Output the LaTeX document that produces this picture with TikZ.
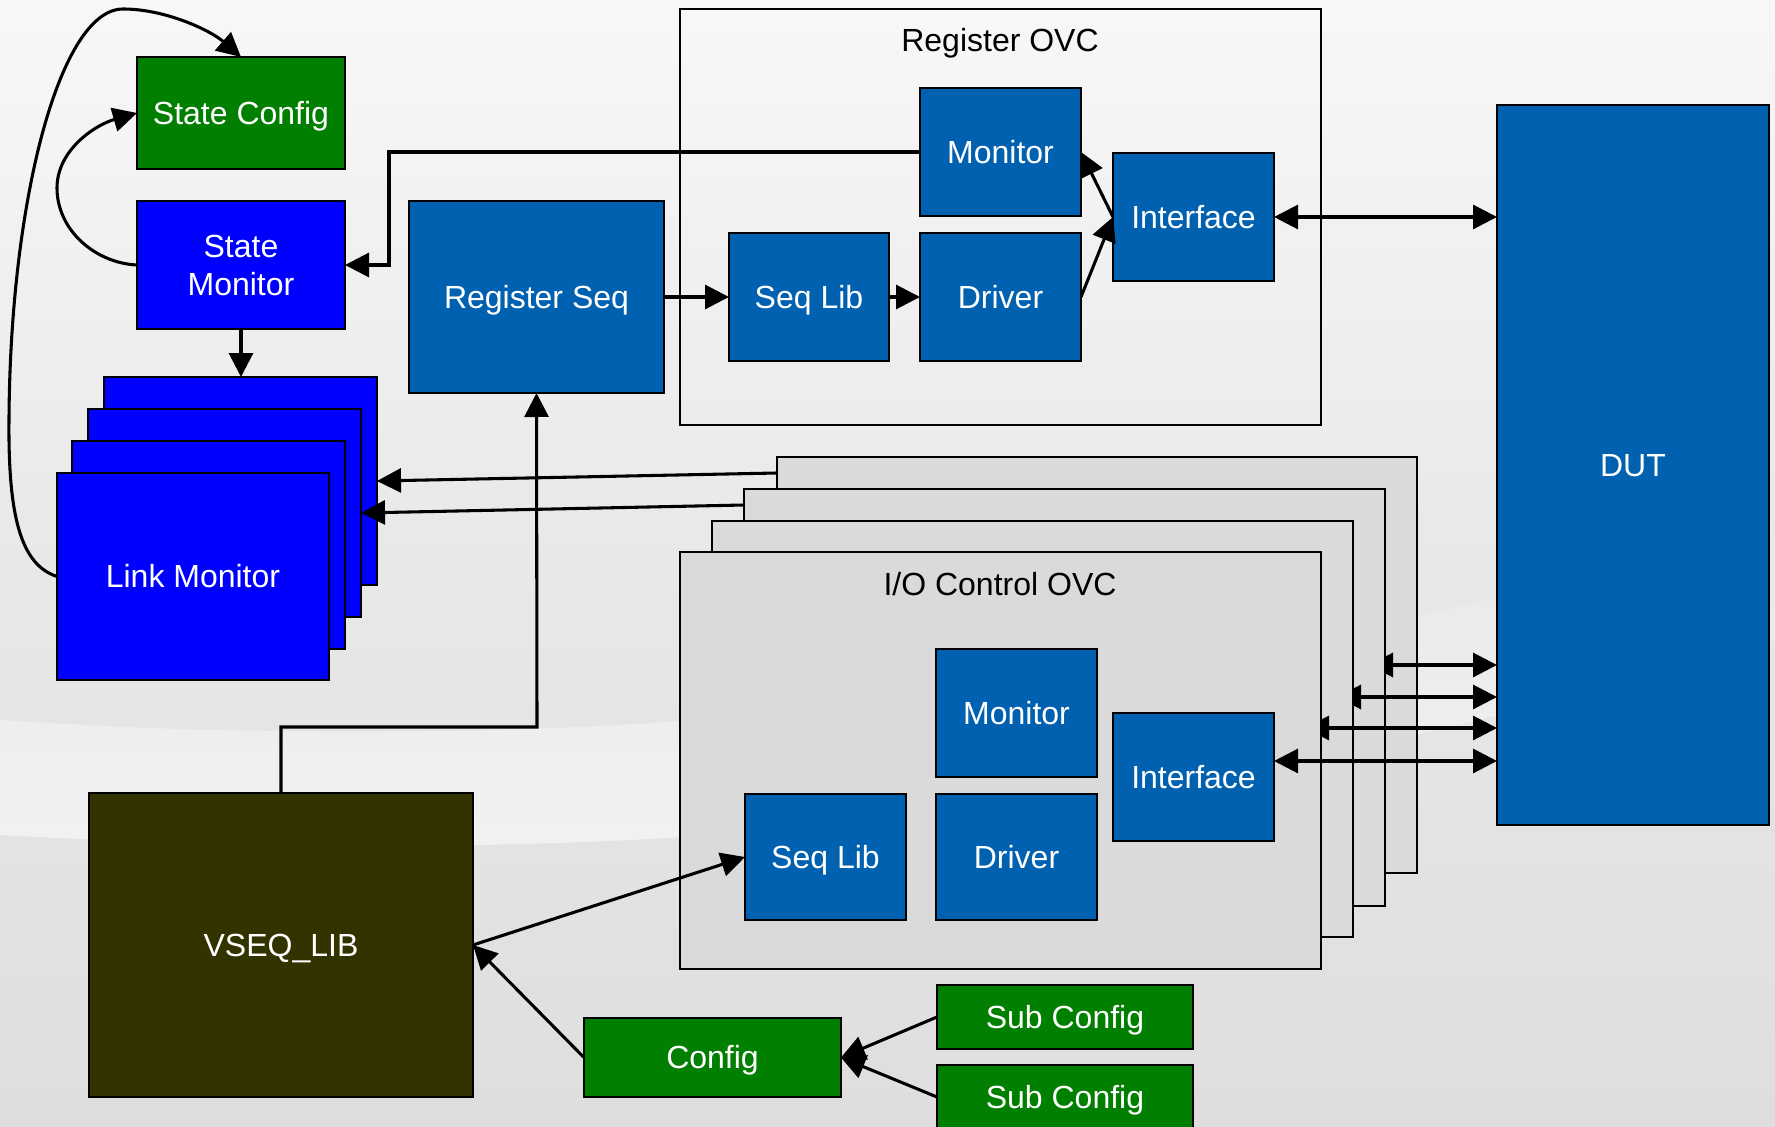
\documentclass[tikz,border=0pt]{standalone}
\usepackage{fontspec}
\setmainfont{Liberation Sans}
\usetikzlibrary{arrows.meta,calc}
\definecolor{regblue}{HTML}{0061B0}
\definecolor{brblue}{HTML}{0000FF}
\definecolor{cfggreen}{HTML}{007F00}
\definecolor{vseqcol}{HTML}{333300}
\definecolor{iofill}{HTML}{DADADA}
\newcommand\bx[7]{\node[#6, minimum width={(#4-#2)*0.75pt}, minimum height={(#5-#3)*0.75pt}] (#1) at ({(#2+#4)/2},{(#3+#5)/2}) {#7};}
\tikzset{
  blk/.style={draw=black, line width=1.6pt, inner sep=0pt, outer sep=0pt, text=white, align=center,
    font=\fontsize{24}{28.75}\selectfont, text height=17.2pt, text depth=0pt},
  rb/.style={blk, fill=regblue},
  bb/.style={blk, fill=brblue},
  gb/.style={blk, fill=cfggreen},
  vb/.style={blk, fill=vseqcol},
  two/.style={text height=46pt},
  ovc/.style={draw=black, line width=1.4pt, inner sep=0pt, outer sep=0pt},
  iob/.style={ovc, fill=iofill},
  ttl/.style={text=black, inner sep=0pt, font=\fontsize{24}{28.75}\selectfont, text height=17.2pt, text depth=0pt},
  con/.style={draw=black, line width=2.3pt},
}
\begin{document}
\begin{tikzpicture}[x=0.75pt, y=-0.75pt, >={Triangle[length=18pt,width=18pt]}]
\useasboundingbox (0,0) rectangle (1775,1127);
% background
\shade[top color=white!97!black, bottom color=white!87!black, middle color=white!91!black] (0,0) rectangle (1775,1127);
\shade[top color=white!91!black, bottom color=white!95!black]
  (0,720) .. controls (600,760) and (1200,700) .. (1775,520)
  -- (1775,640) .. controls (1300,780) and (800,880) .. (0,835) -- cycle;

% curves on the left
\bx{sc}{137}{57}{345}{169}{gb}{State Config}
\bx{sm}{137}{201}{345}{329}{bb,two}{State\\Monitor}
\bx{lm4}{104}{377}{377}{585}{bb}{}
\bx{lm3}{88}{409}{361}{617}{bb}{}
\bx{lm2}{72}{441}{345}{649}{bb}{}
\bx{lm}{57}{473}{329}{680}{bb}{Link Monitor}

\draw[con,->] (lm.west) .. controls (22,565) and (8,520) .. (9,420)
  .. controls (10,200) and (60,9) .. (123,9)
  .. controls (165,9) and (210,30) .. (sc.north);
\draw[con,->] (sm.west) .. controls (95,263) and (57,230) .. (57,188)
  .. controls (57,150) and (95,125) .. (sc.west);

% Register OVC
\node[ovc, minimum width={(1321-680)*0.75pt}, minimum height={(425-9)*0.75pt}] (regovc) at ({(680+1321)/2},{(9+425)/2}) {};
\node[ttl] (regttl) at (1000,40) {Register OVC};
\bx{regseq}{409}{201}{664}{393}{rb}{Register Seq}
\bx{regmon}{920}{88}{1081}{216}{rb}{Monitor}
\bx{regseqlib}{729}{233}{889}{361}{rb}{Seq Lib}
\bx{regdrv}{920}{233}{1081}{361}{rb}{Driver}
\bx{regif}{1113}{153}{1274}{281}{rb}{Interface}
\bx{dut}{1497}{105}{1769}{825}{rb}{DUT}

% I/O stack with arrows to DUT
\node[iob, minimum width={(1417-777)*0.75pt}, minimum height={(873-457)*0.75pt}] (io4) at ({(777+1417)/2},{(457+873)/2}) {};
\coordinate (a1) at (1369,665);
\draw[con,<->] (a1) -- (a1 -| dut.west);
\node[iob, minimum width={(1385-744)*0.75pt}, minimum height={(906-489)*0.75pt}] (io3) at ({(744+1385)/2},{(489+906)/2}) {};
\coordinate (a2) at (1337,697);
\draw[con,<->] (a2) -- (a2 -| dut.west);
\node[iob, minimum width={(1353-712)*0.75pt}, minimum height={(937-521)*0.75pt}] (io2) at ({(712+1353)/2},{(521+937)/2}) {};
\coordinate (a3) at (1305,728);
\draw[con,<->] (a3) -- (a3 -| dut.west);
\node[iob, minimum width={(1321-680)*0.75pt}, minimum height={(969-552)*0.75pt}] (io) at ({(680+1321)/2},{(552+969)/2}) {};
\node[ttl] (iottl) at (1000,584) {I/O Control OVC};
\bx{iomon}{936}{649}{1097}{777}{rb}{Monitor}
\bx{ioif}{1113}{713}{1274}{841}{rb}{Interface}
\bx{ioseqlib}{745}{794}{906}{920}{rb}{Seq Lib}
\bx{iodrv}{936}{794}{1097}{920}{rb}{Driver}
\coordinate (a4) at (1274,761);
\draw[con,<->] (a4) -- (a4 -| dut.west);

% lower left
\bx{vseq}{89}{793}{473}{1097}{vb}{VSEQ\_LIB}
\bx{cfg}{584}{1018}{841}{1097}{gb}{Config}
\bx{sub1}{937}{985}{1193}{1049}{gb}{Sub Config}
\bx{sub2}{937}{1065}{1193}{1129}{gb}{Sub Config}

% connectors
\coordinate (k1) at (389,265);
\draw[con,->] (regmon.west) -| (k1) -- (sm.east);
\draw[con,->] (sm.south) -- (lm4.north -| sm.south);
\draw[con,->] (regseq.east) -- (regseqlib.west);
\draw[con,->] (regseqlib.east) -- (regdrv.west);
\draw[con,->] (regdrv.east) -- (regif.west);
\draw[con,->] (regif.west) -- (regmon.east);
\draw[con,<->] (regif.east) -- (regif.east -| dut.west);
\coordinate (s1) at ($(io4.north west)+(0,16)$);
\coordinate (s2) at ($(io3.north west)+(0,16)$);
\draw[con,->] (s1) -- (lm4.east);
\draw[con,->] (s2) -- (lm3.east);
\coordinate (k2) at (537,727);
\draw[con,->] (vseq.north) |- (k2) -- (regseq.south);
\draw[con,->] (vseq.east) -- (ioseqlib.west);
\draw[con,->] (cfg.west) -- (vseq.east);
\draw[con,->] (sub1.west) -- (cfg.east);
\draw[con,->] (sub2.west) -- (cfg.east);
\end{tikzpicture}
\end{document}
